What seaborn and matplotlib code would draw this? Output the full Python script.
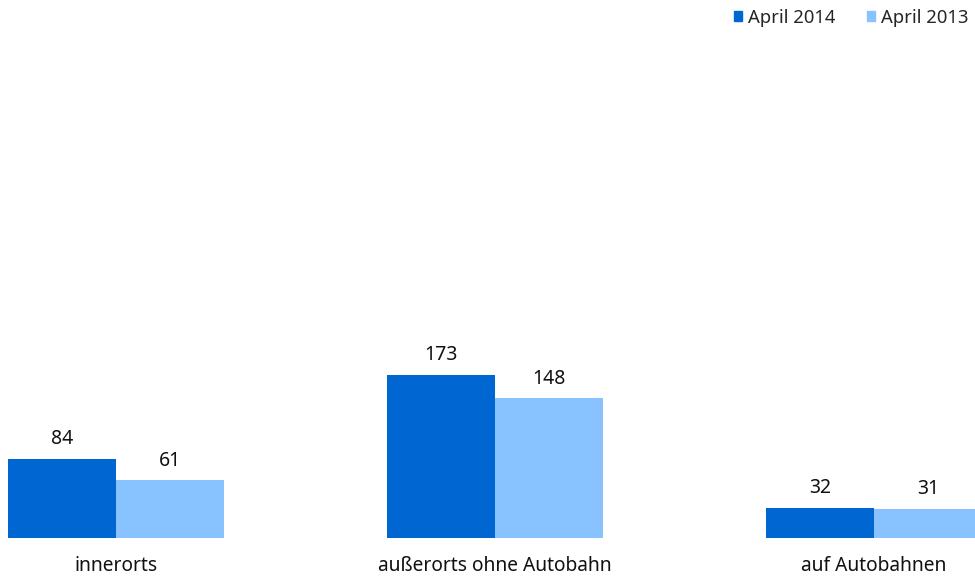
import pandas as pd
import matplotlib.pyplot as plt
import seaborn as sns

# Werte aus dem Diagramm
categories = ["innerorts", "außerorts ohne Autobahn", "auf Autobahnen"]
series = ["April 2014", "April 2013"]
april_2014 = [84, 173, 32]
april_2013 = [61, 148, 31]

colors = ["#0066D2", "#88C3FF"]

df = pd.DataFrame({
    "Ort": categories * 2,
    "Jahr": [series[0]] * 3 + [series[1]] * 3,
    "Wert": april_2014 + april_2013,
})

sns.set_style("white")
plt.rcParams['font.family'] = ['Noto Sans', 'DejaVu Sans']

fig = plt.figure(figsize=(9.75, 5.78), dpi=100)
ax = fig.add_axes([0, 40 / 578, 1, 538 / 578])

sns.barplot(data=df, x="Ort", y="Wert", hue="Jahr", palette=colors,
            width=0.57, gap=0, saturation=1, linewidth=0, ax=ax, legend=False)

for c in ax.containers:
    ax.bar_label(c, padding=7, fontsize=14, color="#111111")

ax.set_xlim(-0.306, 2.266)
ax.set_ylim(0, 570)
ax.set_xlabel("")
ax.set_ylabel("")
ax.set_yticks([])
ax.tick_params(axis="x", length=0, pad=13, labelsize=13.8, colors="#111111")
sns.despine(ax=ax, left=True, bottom=True)

handles = [plt.Rectangle((0, 0), 1, 1, color=c) for c in colors]
fig.legend(handles, series, loc="upper right", bbox_to_anchor=(1.01, 1.014),
           ncol=2, frameon=False, fontsize=13.3, handlelength=0.42, handleheight=0.42,
           handletextpad=0.3, columnspacing=1.75)

fig.savefig("out.png", dpi=100)
